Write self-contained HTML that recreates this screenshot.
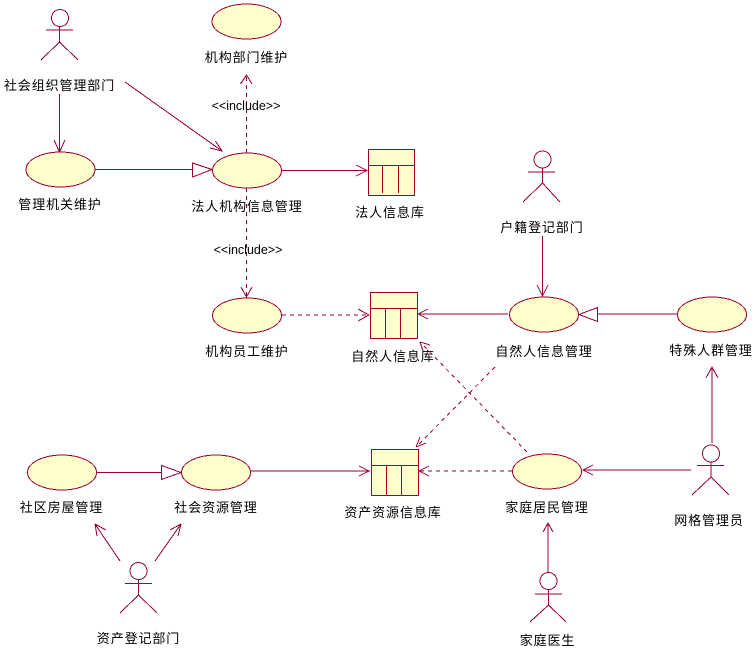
<!DOCTYPE html>
<html><head><meta charset="utf-8"><style>
html,body{margin:0;padding:0;background:#fff}
svg{display:block;shape-rendering:crispEdges}
.l{stroke:#990033;stroke-width:1;fill:none}
.f{stroke:#990033;stroke-width:1;fill:#ffffcc}
.w{stroke:#990033;stroke-width:1;fill:#fff}
.d{stroke-dasharray:4 4}
text{font-family:"Liberation Sans","WenQuanYi Zen Hei","Noto Sans CJK SC",sans-serif;font-size:13px;fill:#000;text-anchor:middle;letter-spacing:.9px}
text.i{font-family:"Liberation Sans",sans-serif;font-size:12.500px;letter-spacing:0;fill:#000}
</style></head><body>
<svg width="756" height="650" viewBox="0 0 756 650" xmlns="http://www.w3.org/2000/svg">
<rect width="756" height="650" fill="#fff"/>
<!-- connectors -->
<g class="l">
<path d="M59.500 94V152M54 140L59.500 152L65 140"/>
<path d="M125 82L222 151M215.500 141L222 151L210 148"/>
<path d="M95 169.500H192"/>
<path class="d" d="M246.500 153V76"/>
<path d="M240.500 84L246.500 75L252 84"/>
<path d="M282 170.500H367M356 165L367 170.500L356 176"/>
<path class="d" d="M246.500 188V297"/>
<path d="M241 287L246.500 297L252 287"/>
<path class="d" d="M282 315H370"/>
<path d="M358 309L369 315L358 321"/>
<path d="M508 314H418M428 309L418 314L428 319"/>
<path d="M542.500 236V296M537 285L542.500 296L548 285"/>
<path d="M677 314H598"/>
<path d="M712 443V367M706 378L712 367L718 378"/>
<path d="M691 470H583M593 465L583 470L593 475"/>
<path d="M548 572V523M543 532L548 523L553 532"/>
<path class="d" d="M527 452L421 343"/>
<path d="M420 342L430 345M420 342L423 351"/>
<path class="d" d="M495 367L417 446"/>
<path d="M416 447L426 443M416 447L420 437"/>
<path class="d" d="M512 471H420"/>
<path d="M429 466L419 471L429 476"/>
<path d="M250 471H370M359 466L369 471L359 476"/>
<path d="M96 472.500H161"/>
<path d="M120 561L95 524M95 524L106 530M95 524L97 536"/>
<path d="M155 561L181 524M181 524L170 530M181 524L178 536"/>
</g>
<!-- triangles -->
<path class="w" d="M192.500 163L212 169.500L192.500 177Z"/>
<path class="w" d="M597.500 307.500L579 314.500L597.500 321.500Z"/>
<path class="w" d="M161.500 465.500L181 472.500L161.500 479.500Z"/>
<!-- ellipses -->
<ellipse class="f" cx="246.500" cy="21.500" rx="34.500" ry="17.500"/>
<ellipse class="f" cx="60.500" cy="169.500" rx="34.500" ry="17.500"/>
<ellipse class="f" cx="247" cy="170.500" rx="34.500" ry="17.500"/>
<ellipse class="f" cx="247" cy="315.500" rx="34.500" ry="17.500"/>
<ellipse class="f" cx="544" cy="314.500" rx="34.500" ry="17.500"/>
<ellipse class="f" cx="712" cy="314.500" rx="34.500" ry="17.500"/>
<ellipse class="f" cx="547" cy="471.500" rx="34.500" ry="17.500"/>
<ellipse class="f" cx="62" cy="472.500" rx="34.500" ry="17.500"/>
<ellipse class="f" cx="216" cy="472.500" rx="34.500" ry="17.500"/>
<!-- tables -->
<g class="f"><rect x="368.500" y="149.500" width="46" height="46"/></g>
<path class="l" d="M368.500 165.500H414.500M382.500 165.500V193M398.500 165.500V193"/>
<g class="f"><rect x="370.500" y="292.500" width="47" height="46"/></g>
<path class="l" d="M370.500 308.500H417.500M385.500 308.500V338M400.500 308.500V338"/>
<g class="f"><rect x="371.500" y="449.500" width="47" height="46"/></g>
<path class="l" d="M371.500 465.500H418.500M386.500 465.500V495M401.500 465.500V495"/>
<!-- actors -->
<g class="l">
<circle cx="60" cy="18" r="8.500"/><path d="M46 30H73M59.500 26.500V42M59.500 42L41 60M59.500 42L78 60"/>
<circle cx="542.500" cy="159.500" r="8.500"/><path d="M528 172H555M542.500 168V183M542.500 183L523 202M542.500 183L560 202"/>
<circle cx="138.500" cy="571" r="8.500"/><path d="M125 583.500H152M138.500 579.500V595M138.500 595L120 613M138.500 595L157 613"/>
<circle cx="711" cy="453.500" r="8.500"/><path d="M697 465.500H724M711 462V477M711 477L692 495M711 477L729 495"/>
<circle cx="548.500" cy="581" r="8.500"/><path d="M535 594H562M548.500 589.500V605M548.500 605L530 622M548.500 605L566 622"/>
</g>
<!-- labels -->
<text x="59.500" y="90">社会组织管理部门</text>
<text x="246.500" y="62">机构部门维护</text>
<text x="60" y="209">管理机关维护</text>
<text x="247" y="211">法人机构信息管理</text>
<text x="390" y="217">法人信息库</text>
<text x="542" y="232">户籍登记部门</text>
<text x="247" y="356">机构员工维护</text>
<text x="393" y="361">自然人信息库</text>
<text x="544" y="356">自然人信息管理</text>
<text x="711" y="355">特殊人群管理</text>
<text x="393" y="517">资产资源信息库</text>
<text x="547" y="512">家庭居民管理</text>
<text x="709" y="525">网格管理员</text>
<text x="61.500" y="512">社区房屋管理</text>
<text x="216" y="512">社会资源管理</text>
<text x="138.500" y="643">资产登记部门</text>
<text x="547.500" y="645">家庭医生</text>
<text class="i" x="246" y="110">&lt;&lt;include&gt;&gt;</text>
<text class="i" x="248" y="254">&lt;&lt;include&gt;&gt;</text>
</svg>
</body></html>
